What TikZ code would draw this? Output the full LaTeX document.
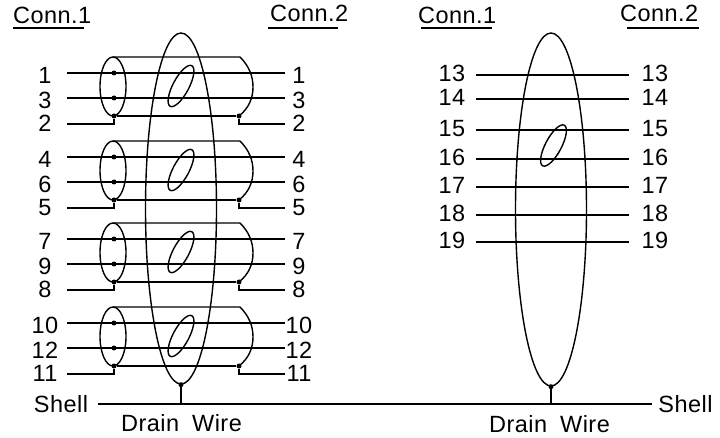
\documentclass[tikz,border=0pt]{standalone}
\usepackage{fontspec}
\setmainfont[LetterSpace=2]{Liberation Sans}
\usetikzlibrary{shapes.geometric,calc}
\tikzset{
    wire/.style={
        draw,
        line width=1.4pt,
    },
    tag/.style={
        inner sep=0pt,
        font=\fontsize{23.5}{23.5}\selectfont,
    },
    lnum/.style={
        tag,
        minimum width=44pt,
        text depth=0pt,
    },
    rnum/.style={
        tag,
        minimum width=28pt,
        text depth=0pt,
    },
    low/.style={
        text height=20.5pt,
    },
    mid/.style={
        text height=14.5pt,
    },
    high/.style={
        text height=12.5pt,
    },
    jacket/.style={
        ellipse,
        draw,
        line width=1.4pt,
        inner sep=0pt,
    },
    twist/.style={
        jacket,
        minimum width=46pt,
        minimum height=16pt,
        rotate=62,
    },
    bond/.style={
        circle,
        fill=black,
        inner sep=0pt,
        minimum size=5pt,
    },
    pair/.pic={
        \node [jacket, minimum width=26pt, minimum height=59pt] (end) at (113,86.5) {};
        \node [twist] (tw) at (181,86) {};
        \node [bond] (a) at (114,73) {};
        \node [bond] (b) at (114,98) {};
        \coordinate (top) at (113,57);
        \coordinate (topr) at (240,57);
        \coordinate (botr) at (239,116);
        \node [bond] (c) at (114,116) {};
        \node [bond] (d) at (239,116) {};
        \draw [wire] (top) -- (topr)
            .. controls (249,66) and (253,76) .. (253,87)
            .. controls (253,98) and (249,108) .. (botr);
    },
}

\begin{document}
\begin{tikzpicture}[x=1pt, y=-1pt]
    \useasboundingbox (0,0) rectangle (720,438);

    \node [tag, anchor=west] (C1a) at (13,15) {Conn.1};
    \node [tag, anchor=west] (C2a) at (270,13) {Conn.2};
    \node [tag, anchor=west] (C1b) at (418,15) {Conn.1};
    \node [tag, anchor=west] (C2b) at (620,13) {Conn.2};
    \coordinate (u1) at (13,28);
    \coordinate (u2) at (84,28);
    \coordinate (u3) at (268,28);
    \coordinate (u4) at (338,28);
    \coordinate (u5) at (421,28);
    \coordinate (u6) at (492,28);
    \coordinate (u7) at (627,28);
    \coordinate (u8) at (699,28);
    \draw [wire] (u1) -- (u2);
    \draw [wire] (u3) -- (u4);
    \draw [wire] (u5) -- (u6);
    \draw [wire] (u7) -- (u8);

    \node [jacket, minimum width=71pt, minimum height=351pt] (big1) at (181,208.5) {};
    \node [jacket, minimum width=71pt, minimum height=353pt] (big2) at (551,209.5) {};

    \pic (g1) at (0,0) {pair};
    \pic (g2) at (0,84) {pair};
    \pic (g3) at (0,166) {pair};
    \pic (g4) at (0,250) {pair};

    % first group
    \node [lnum, low] (L1) at (45,73) {1};
    \node [lnum, low] (L3) at (45,98) {3};
    \node [lnum, mid] (L2) at (45,124) {2};
    \node [rnum, low] (R1) at (299,73) {1};
    \node [rnum, low] (R3) at (299,98) {3};
    \node [rnum, mid] (R2) at (299,124) {2};
    \draw [wire] (L1) -- (R1);
    \draw [wire] (L3) -- (R3);
    \draw [wire] (L2) -| (g1c) -- (g1d) |- (R2);

    % second group
    \node [lnum, low] (L4) at (45,157) {4};
    \node [lnum, low] (L6) at (45,182) {6};
    \node [lnum, mid] (L5) at (45,208) {5};
    \node [rnum, low] (R4) at (299,157) {4};
    \node [rnum, low] (R6) at (299,182) {6};
    \node [rnum, mid] (R5) at (299,208) {5};
    \draw [wire] (L4) -- (R4);
    \draw [wire] (L6) -- (R6);
    \draw [wire] (L5) -| (g2c) -- (g2d) |- (R5);

    % third group
    \node [lnum, low] (L7) at (45,239) {7};
    \node [lnum, low] (L9) at (45,264) {9};
    \node [lnum, mid] (L8) at (45,290) {8};
    \node [rnum, low] (R7) at (299,239) {7};
    \node [rnum, low] (R9) at (299,264) {9};
    \node [rnum, mid] (R8) at (299,290) {8};
    \draw [wire] (L7) -- (R7);
    \draw [wire] (L9) -- (R9);
    \draw [wire] (L8) -| (g3c) -- (g3d) |- (R8);

    % fourth group
    \node [lnum, low] (L10) at (45,323) {10};
    \node [lnum, low] (L12) at (45,348) {12};
    \node [lnum, mid] (L11) at (45,374) {11};
    \node [rnum, low] (R10) at (299,323) {10};
    \node [rnum, low] (R12) at (299,348) {12};
    \node [rnum, mid] (R11) at (299,374) {11};
    \draw [wire] (L10) -- (R10);
    \draw [wire] (L12) -- (R12);
    \draw [wire] (L11) -| (g4c) -- (g4d) |- (R11);

    % single wires
    \node [tag, minimum width=48pt, text depth=0pt, high] (A13) at (452,75) {13};
    \node [tag, minimum width=48pt, text depth=0pt, high] (A14) at (452,99) {14};
    \node [tag, minimum width=48pt, text depth=0pt, high] (A15) at (452,130) {15};
    \node [tag, minimum width=48pt, text depth=0pt, high] (A16) at (452,159) {16};
    \node [tag, minimum width=48pt, text depth=0pt, high] (A17) at (452,187) {17};
    \node [tag, minimum width=48pt, text depth=0pt, high] (A18) at (452,215) {18};
    \node [tag, minimum width=48pt, text depth=0pt, high] (A19) at (452,242) {19};
    \node [tag, minimum width=52pt, text depth=0pt, high] (B13) at (655,75) {13};
    \node [tag, minimum width=52pt, text depth=0pt, high] (B14) at (655,99) {14};
    \node [tag, minimum width=52pt, text depth=0pt, high] (B15) at (655,130) {15};
    \node [tag, minimum width=52pt, text depth=0pt, high] (B16) at (655,159) {16};
    \node [tag, minimum width=52pt, text depth=0pt, high] (B17) at (655,187) {17};
    \node [tag, minimum width=52pt, text depth=0pt, high] (B18) at (655,215) {18};
    \node [tag, minimum width=52pt, text depth=0pt, high] (B19) at (655,242) {19};
    \draw [wire] (A13) -- (B13);
    \draw [wire] (A14) -- (B14);
    \draw [wire] (A15) -- (B15);
    \draw [wire] (A16) -- (B16);
    \draw [wire] (A17) -- (B17);
    \draw [wire] (A18) -- (B18);
    \draw [wire] (A19) -- (B19);
    \node [twist] (tw2) at (553.5,145.5) {};

    % shell and drain
    \node [tag, minimum width=74pt] (S1) at (61,404) {Shell};
    \node [tag, minimum width=67pt] (S2) at (685.5,404) {Shell};
    \draw [wire] (S1) -- (S2);
    \node [bond] (D1) at (big1.south) {};
    \node [bond] (D2) at (big2.south) {};
    \draw [wire] (D1) -- (D1 |- S1);
    \draw [wire] (D2) -- (D2 |- S2);
    \node [tag] (W1) at (181.5,423.5) {Drain\hspace{13pt}Wire};
    \node [tag] (W2) at (549.5,424) {Drain\hspace{13pt}Wire};
\end{tikzpicture}
\end{document}
